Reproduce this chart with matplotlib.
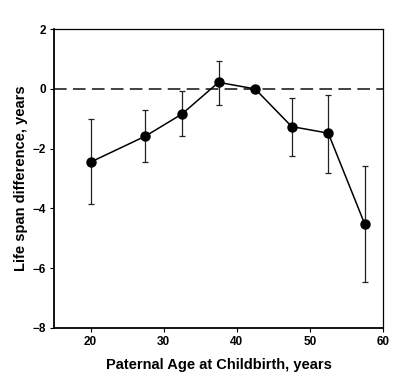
import numpy as np
import matplotlib.pyplot as plt

plt.rcParams['font.family'] = ['Liberation Sans', 'DejaVu Sans']
plt.rcParams['font.weight'] = 'bold'

# paternal age group midpoints and life span difference (years)
ages = [20, 27.5, 32.5, 37.5, 42.5, 47.5, 52.5, 57.5]
diff = [-2.45, -1.58, -0.84, 0.22, 0.0, -1.26, -1.48, -4.53]
err_top = [-1.02, -0.71, -0.08, 0.94, 0.0, -0.31, -0.22, -2.59]
err_bottom = [-3.85, -2.45, -1.58, -0.54, 0.0, -2.25, -2.81, -6.47]

lower = np.array(diff) - np.array(err_bottom)
upper = np.array(err_top) - np.array(diff)

fig = plt.figure(figsize=(3.97, 3.89), dpi=100)
ax = fig.add_axes([0.136, 0.157, 0.829, 0.768])

ax.axhline(0, color='#333333', linestyle=(0, (7, 3.5)), linewidth=1.3, zorder=1)
ax.errorbar(ages, diff, yerr=[lower, upper], fmt='none', ecolor='#222222',
            elinewidth=0.9, capsize=2.5, capthick=0.9, zorder=2)
ax.plot(ages, diff, color='black', linewidth=1.1, marker='o', markersize=6.5,
        markerfacecolor='black', zorder=3)

ax.set_xlim(15, 60)
ax.set_ylim(-8, 2)
ax.set_xticks([20, 30, 40, 50, 60])
ax.set_yticks([-8, -6, -4, -2, 0, 2])
ax.tick_params(direction='out', length=3, width=0.8, labelsize=8.5, pad=3)
for s in ['left', 'bottom']:
    ax.spines[s].set_linewidth(1.3)
for s in ['top', 'right']:
    ax.spines[s].set_linewidth(0.9)

ax.set_xlabel('Paternal Age at Childbirth, years', fontsize=10.5, fontweight='bold', labelpad=7)
ax.set_ylabel('Life span difference, years', fontsize=10.5, fontweight='bold', labelpad=3)

fig.savefig('out.png', dpi=100)
